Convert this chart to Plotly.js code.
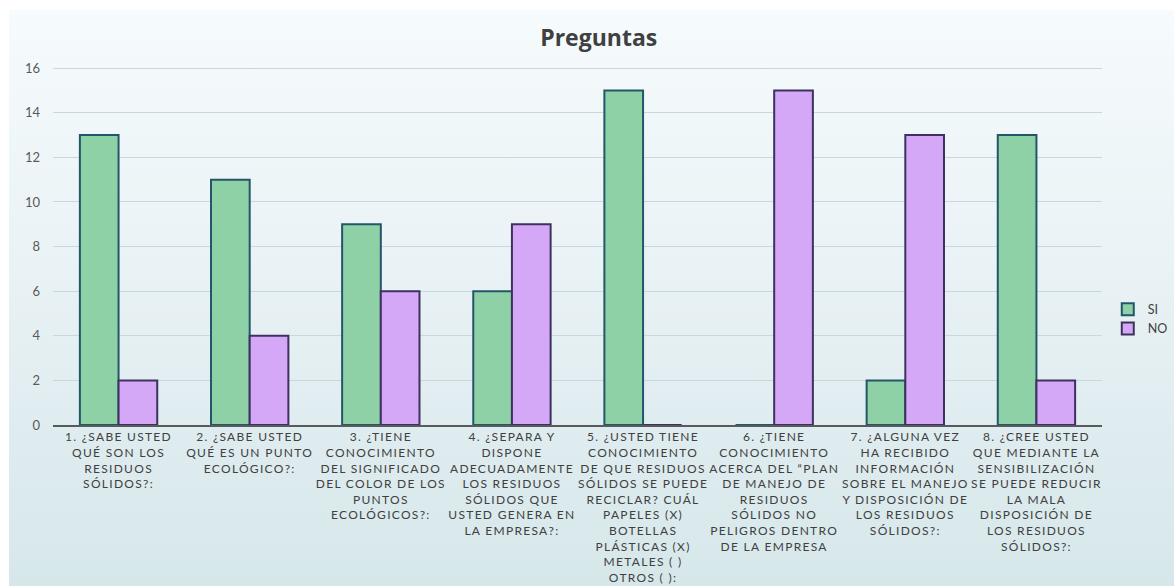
<!DOCTYPE html>
<html>
<head>
<meta charset="utf-8">
<script src="https://cdn.plot.ly/plotly-3.0.1.min.js"></script>
<style>
html,body{margin:0;padding:0;background:#ffffff;}
#bg{position:absolute;left:9px;top:10px;width:1165px;height:576px;
background:linear-gradient(to bottom,#f6fbfd 0%,#e9f2f5 45%,#d6e7ea 100%);}
#chart{position:absolute;left:0;top:0;width:1174px;height:586px;}
#chart .xtick text{letter-spacing:1.3px;}
</style>
</head>
<body>
<div id="bg"></div>
<div id="chart"></div>
<script>
const categories = [
  "1. ¿SABE USTED<br>QUÉ SON LOS<br>RESIDUOS<br>SÓLIDOS?:",
  "2. ¿SABE USTED<br>QUÉ ES UN PUNTO<br>ECOLÓGICO?:",
  "3. ¿TIENE<br>CONOCIMIENTO<br>DEL SIGNIFICADO<br>DEL COLOR DE LOS<br>PUNTOS<br>ECOLÓGICOS?:",
  "4. ¿SEPARA Y<br>DISPONE<br>ADECUADAMENTE<br>LOS RESIDUOS<br>SÓLIDOS QUE<br>USTED GENERA EN<br>LA EMPRESA?:",
  "5. ¿USTED TIENE<br>CONOCIMIENTO<br>DE QUE RESIDUOS<br>SÓLIDOS SE PUEDE<br>RECICLAR? CUÁL<br>PAPELES (X)<br>BOTELLAS<br>PLÁSTICAS (X)<br>METALES ( )<br>OTROS ( ):",
  "6. ¿TIENE<br>CONOCIMIENTO<br>ACERCA DEL “PLAN<br>DE MANEJO DE<br>RESIDUOS<br>SÓLIDOS NO<br>PELIGROS DENTRO<br>DE LA EMPRESA",
  "7. ¿ALGUNA VEZ<br>HA RECIBIDO<br>INFORMACIÓN<br>SOBRE EL MANEJO<br>Y DISPOSICIÓN DE<br>LOS RESIDUOS<br>SÓLIDOS?:",
  "8. ¿CREE USTED<br>QUE MEDIANTE LA<br>SENSIBILIZACIÓN<br>SE PUEDE REDUCIR<br>LA MALA<br>DISPOSICIÓN DE<br>LOS RESIDUOS<br>SÓLIDOS?:"
];
const siValues = [13, 11, 9, 6, 15, 0, 2, 13];
const noValues = [2, 4, 6, 9, 0, 15, 13, 2];
const yTicks = [0, 2, 4, 6, 8, 10, 12, 14, 16];

const traces = [
  {type:'bar', name:'SI', x:categories, y:siValues,
   marker:{color:'#8fd1a6', line:{color:'#24566a', width:2}}},
  {type:'bar', name:'NO', x:categories, y:noValues,
   marker:{color:'#d5a8f7', line:{color:'#3d325e', width:2}}}
];

const layout = {
  width:1174, height:586,
  paper_bgcolor:'rgba(0,0,0,0)', plot_bgcolor:'rgba(0,0,0,0)',
  margin:{l:53, r:72, t:67, b:161, autoexpand:false},
  font:{family:'Lato, "Open Sans", sans-serif', color:'#404040', size:12},
  title:{text:'<b>Preguntas</b>', x:0.51, xanchor:'center', y:0.935, yanchor:'middle',
    font:{family:'"Open Sans", sans-serif', size:23, color:'#404040'}},
  barmode:'group', bargap:0.41, bargroupgap:0,
  showlegend:true,
  legend:{x:1.0055, xanchor:'left', y:0.296, yanchor:'middle', itemwidth:30,
    font:{size:12.5, color:'#404040'}, bgcolor:'rgba(0,0,0,0)', tracegroupgap:4},
  xaxis:{type:'category', showline:true, linecolor:'#5a5a5a', linewidth:2,
    ticks:'', tickangle:0, tickfont:{size:12, color:'#404040'}, automargin:false},
  yaxis:{range:[0,16.05], tickvals:yTicks, showgrid:true, gridcolor:'#c9d8dc', gridwidth:1,
    zeroline:false, ticks:'', ticklabelstandoff:12, tickfont:{size:13, color:'#595959'}, automargin:false}
};

Plotly.newPlot('chart', traces, layout, {displayModeBar:false, staticPlot:true});
</script>
</body>
</html>
